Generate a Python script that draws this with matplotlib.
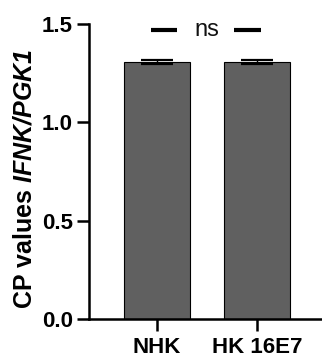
import numpy as np
import matplotlib as mpl
import matplotlib.pyplot as plt
mpl.use('Agg')

groups = ['NHK', 'HK 16E7']
means = [1.305, 1.305]
errs = [0.01, 0.01]
sig_label = 'ns'
yticks = [0.0, 0.5, 1.0, 1.5]

plt.rcParams['font.family'] = 'Liberation Sans'
plt.rcParams['font.weight'] = 'bold'
plt.rcParams['mathtext.fontset'] = 'custom'
plt.rcParams['mathtext.bfit'] = 'Liberation Sans:bold:italic'
plt.rcParams['mathtext.bf'] = 'Liberation Sans:bold'
plt.rcParams['mathtext.rm'] = 'Liberation Sans:bold'

fig = plt.figure(figsize=(3.22, 3.56), dpi=100)
ax = fig.add_axes([0.2764, 0.1039, 0.7236, 0.8287])

x = np.arange(len(groups))
ax.bar(x, means, width=0.66, color='#606060', edgecolor='black', linewidth=0.8, zorder=2)
ax.errorbar(x, means, yerr=errs, fmt='none', ecolor='black', elinewidth=1.0,
            capsize=11.8, capthick=1.6, zorder=3)

# significance bar, broken around the label
ytop = 1.47
mid = x.mean()
ax.plot([x[0] - 0.06, mid - 0.3], [ytop, ytop], color='black', lw=3, solid_capstyle='butt', clip_on=False)
ax.plot([mid + 0.27, x[1] + 0.04], [ytop, ytop], color='black', lw=3, solid_capstyle='butt', clip_on=False)
ax.text(mid, ytop, sig_label, ha='center', va='center', fontsize=17, fontweight='normal', color='#111111')

ax.set_xlim(-0.68, 1.65)
ax.set_ylim(0, 1.5)
ax.set_yticks(yticks)
ax.set_yticklabels(['%.1f' % t for t in yticks])
ax.set_xticks(x)
ax.set_xticklabels(groups)

for s in ['top', 'right']:
    ax.spines[s].set_visible(False)
for s in ['left', 'bottom']:
    ax.spines[s].set_linewidth(1.8)
ax.tick_params(axis='both', direction='out', length=8.6, width=1.8, labelsize=16)
ax.tick_params(axis='y', pad=3)
ax.tick_params(axis='x', pad=4)

ax.set_ylabel(r'CP values $\mathbfit{IFNK/PGK1}$', fontsize=18, fontweight='bold')
ax.yaxis.set_label_coords(-0.225, 0.475)

fig.savefig('out.png', dpi=100)
